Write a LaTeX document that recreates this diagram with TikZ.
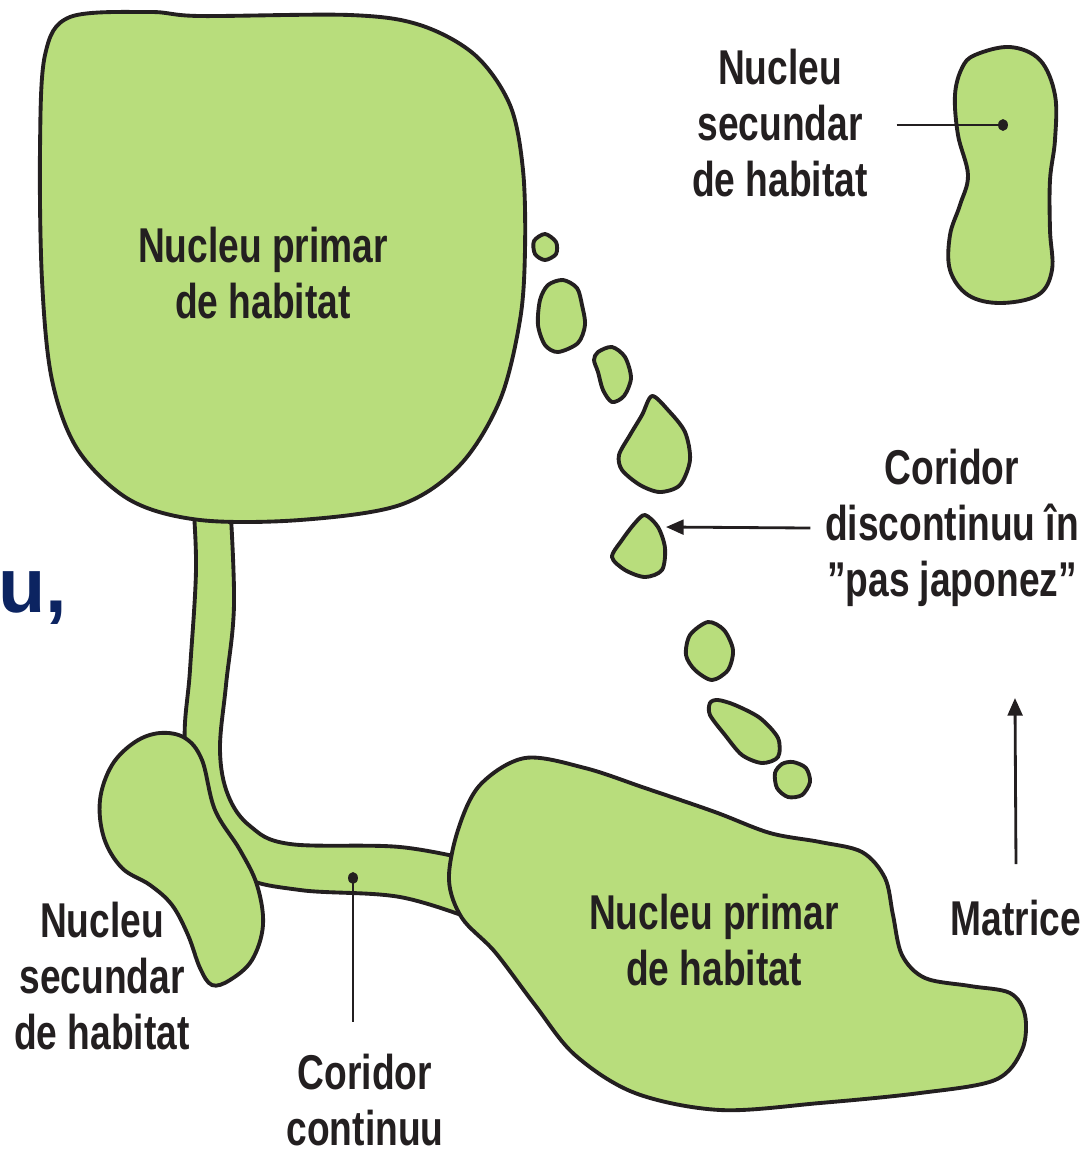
\documentclass[tikz,border=0pt]{standalone}
\usepackage{fontspec}
\newfontfamily\labelfont{Liberation Sans}[FakeStretch=0.76]
\newfontfamily\slidefont{Liberation Sans}
\usetikzlibrary{arrows.meta}
\definecolor{patchgreen}{RGB}{184,221,124}
\definecolor{inkdark}{RGB}{35,31,32}
\definecolor{slideblue}{RGB}{12,36,97}
\tikzset{%
  patch/.style={draw=inkdark,fill=patchgreen,line width=1.1pt,line join=round},
  patchlabel/.style={align=center,inner sep=0pt,text=inkdark,font={\labelfont\bfseries\fontsize{13.9}{15.9}\selectfont}},
  pointer/.style={draw=inkdark,line width=0.8pt},
  arrow/.style={pointer,-{Triangle[length=5pt,width=4.2pt]}},
  dotmark/.style={fill=inkdark}%
}

\begin{document}
\begin{tikzpicture}[x=0.01cm,y=-0.01cm]
\useasboundingbox (0,0) rectangle (1087,1153);

% Continuous corridor (under the patches)
\draw[patch] plot[smooth,tension=0.6] coordinates {(193,500) (196,570) (190,670) (185,745) (200,830) (240,875) (300,890) (400,897) (480,922)}
  -- plot[smooth,tension=0.6] coordinates {(480,862) (400,847) (290,844) (250,826) (228,795) (220,750) (226,685) (234,605) (230,500)} -- cycle;

% Primary patches
\draw[patch] plot[smooth cycle,tension=0.55] coordinates {(70,17) (150,12) (200,16) (350,15) (420,25) (475,55) (510,105) (523,170) (525,250) (520,320) (500,400) (460,465) (400,505) (300,520) (200,520) (130,500) (78,450) (52,380) (42,280) (40,150) (45,55)};
\draw[patch] plot[smooth cycle,tension=0.55] coordinates {(525,758) (480,785) (458,830) (449,880) (462,918) (495,952) (535,1005) (575,1055) (635,1093) (720,1110) (820,1103) (920,1093) (995,1080) (1022,1050) (1025,1015) (1010,993) (970,986) (925,978) (902,955) (893,915) (885,878) (862,852) (820,842) (770,833) (715,812) (645,788) (585,768)};

% Secondary patches
\draw[patch] plot[smooth cycle,tension=0.6] coordinates {(160,733) (185,738) (202,760) (215,810) (240,850) (257,885) (263,925) (252,960) (230,980) (212,985) (200,968) (188,935) (172,905) (150,885) (122,868) (104,838) (100,800) (112,765) (135,742)};
\draw[patch] plot[smooth cycle,tension=0.6] coordinates {(975,55) (1010,47) (1040,60) (1055,95) (1055,140) (1050,180) (1050,230) (1052,270) (1038,295) (1000,303) (968,295) (950,270) (950,235) (960,205) (968,175) (958,135) (955,95) (962,68)};

% Stepping stones
\draw[patch] plot[smooth cycle] coordinates {(545,234) (556,242) (556,254) (545,260) (535,254) (534,241)};
\draw[patch] plot[smooth cycle] coordinates {(563,280) (577,288) (582,305) (585,325) (578,343) (558,352) (545,345) (538,325) (540,300) (548,285)};
\draw[patch] plot[smooth cycle] coordinates {(598,352) (612,347) (625,357) (631,378) (624,396) (612,402) (603,390) (598,372) (594,360)};
\draw[patch] plot[smooth cycle] coordinates {(652,396) (668,410) (685,432) (690,460) (680,485) (660,492) (640,485) (622,470) (619,455) (630,435) (642,415)};
\draw[patch] plot[smooth cycle] coordinates {(645,515) (658,527) (665,548) (662,570) (645,577) (625,570) (612,557) (622,540) (635,523)};
\draw[patch] plot[smooth cycle] coordinates {(708,622) (724,630) (733,650) (728,670) (712,680) (695,670) (686,655) (690,635)};
\draw[patch] plot[smooth cycle] coordinates {(718,700) (735,705) (760,718) (778,738) (778,757) (762,763) (742,755) (725,735) (710,715) (710,703)};
\draw[patch] plot[smooth cycle] coordinates {(793,762) (806,768) (810,782) (802,795) (788,797) (777,788) (775,773) (782,764)};

% Labels
\node[patchlabel] (primtop) at (263,273) {Nucleu primar\\de habitat};
\node[patchlabel] (primbot) at (714,940) {Nucleu primar\\de habitat};
\node[patchlabel] (sectop) at (780,123) {Nucleu\\secundar\\de habitat};
\node[patchlabel] (secbot) at (102,976) {Nucleu\\secundar\\de habitat};
\node[patchlabel] (stepcor) at (952,528) {Coridor\\discontinuu în\\”pas japonez”};
\node[patchlabel] (contcor) at (365,1100) {Coridor\\continuu};
\node[patchlabel] (matrix) at (1016,918) {Matrice};
\node[anchor=base west,inner sep=0pt,text=slideblue,font={\slidefont\bfseries\fontsize{22}{26}\selectfont}] (slidefrag) at (-2,612) {u,};

% Pointers
\coordinate (secdot) at (1003,125);
\coordinate (cordot) at (353,878);
\coordinate (stonetip) at (666,527);
\coordinate (matend) at (1015,698);

\fill[dotmark] (secdot) ellipse[x radius=1.4pt,y radius=1.7pt];
\fill[dotmark] (cordot) ellipse[x radius=1.4pt,y radius=1.7pt];
\draw[pointer] ([xshift=8pt]secdot -| sectop.east) -- (secdot);
\draw[pointer] ([yshift=9pt]cordot |- contcor.north) -- (cordot);
\draw[arrow] ([xshift=-4pt]stepcor.west) -- (stonetip);
\draw[arrow] ([yshift=10pt]matrix.north) -- (matend);

\end{tikzpicture}
\end{document}
